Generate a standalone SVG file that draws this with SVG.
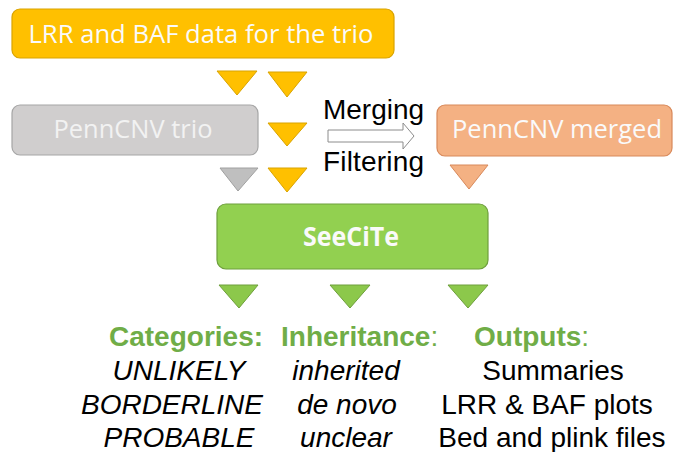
<svg xmlns="http://www.w3.org/2000/svg" width="674" height="452" viewBox="0 0 674 452">
<style>
.box{stroke-width:1.2}
.lbl{font-family:"Open Sans","Liberation Sans",sans-serif;font-size:25px;fill:#FAFAFA;text-anchor:middle}
.t{font-family:"Liberation Sans",Arial,sans-serif;font-size:28px;fill:#000}
.it{font-style:italic;text-anchor:middle}
.h{font-weight:bold;fill:#70AD47}
.y{fill:#FFC000;stroke:#D9A300;stroke-width:1}
.g{fill:#BFBFBF;stroke:#A0A0A0;stroke-width:1}
.o{fill:#F4B183;stroke:#D8895A;stroke-width:1}
.gr{fill:#8CC84B;stroke:#6E9F3C;stroke-width:1}
</style>
<rect width="674" height="452" fill="#FFFFFF"/>
<g id="connectors">
<polygon class="y" points="217,71 257,71 237,95"/>
<polygon class="y" points="268,72 307,72 287,97"/>
<polygon class="y" points="268,123 307,123 287,146"/>
<polygon class="g" points="220,168 258,168 238,191"/>
<polygon class="y" points="268,168 307,168 287,192"/>
<polygon class="o" points="450,165 488,165 469,189"/>
<polygon class="gr" points="219,285 258,285 239,308"/>
<polygon class="gr" points="330,285 370,285 350,308"/>
<polygon class="gr" points="448,285 488,285 468,308"/>
<path d="M328,130 H403 V123 L414,136 L403,149 V142 H328 Z" fill="#FFFFFF" stroke="#8C8C8C" stroke-width="1"/>
<text class="t" x="323" y="119" textLength="101">Merging</text>
<text class="t" x="323" y="171" textLength="101">Filtering</text>
</g>
<g id="lrr-baf">
<rect class="box" x="12" y="9" width="382" height="49" rx="8" fill="#FFC000" stroke="#D9A300"/>
<text class="lbl" x="201" y="43" textLength="345" lengthAdjust="spacingAndGlyphs">LRR and BAF data for the trio</text>
</g>
<g id="penncnv-trio">
<rect class="box" x="12" y="105" width="246" height="50" rx="8" fill="#D0CECE" stroke="#A6A6A6"/>
<text class="lbl" x="133" y="138" textLength="159" lengthAdjust="spacingAndGlyphs" style="fill:#F2F2F2">PennCNV trio</text>
</g>
<g id="penncnv-merged">
<rect class="box" x="437" y="105" width="235" height="51" rx="8" fill="#F4B183" stroke="#D8895A"/>
<text class="lbl" x="557" y="138" textLength="210" lengthAdjust="spacingAndGlyphs">PennCNV merged</text>
</g>
<g id="seecite">
<rect class="box" x="217" y="204" width="271" height="65" rx="9" fill="#92D050" stroke="#6E9F3C"/>
<text class="lbl" x="351" y="246" textLength="96" lengthAdjust="spacingAndGlyphs" style="font-weight:bold;font-size:27px">SeeCiTe</text>
</g>
<g id="categories">
<text class="t h" x="109" y="346">Categories:</text>
<text class="t it" x="179" y="380">UNLIKELY</text>
<text class="t it" x="172" y="414">BORDERLINE</text>
<text class="t it" x="179" y="447">PROBABLE</text>
</g>
<g id="inheritance">
<text class="t h" x="281" y="346">Inheritance<tspan style="font-weight:normal">:</tspan></text>
<text class="t it" x="346" y="380">inherited</text>
<text class="t it" x="347" y="414">de novo</text>
<text class="t it" x="346" y="447">unclear</text>
</g>
<g id="outputs">
<text class="t h" x="474" y="346">Outputs<tspan style="font-weight:normal">:</tspan></text>
<text class="t" x="553" y="380" text-anchor="middle">Summaries</text>
<text class="t" x="547" y="414" text-anchor="middle">LRR &amp; BAF plots</text>
<text class="t" x="552" y="447" text-anchor="middle">Bed and plink files</text>
</g>
</svg>
